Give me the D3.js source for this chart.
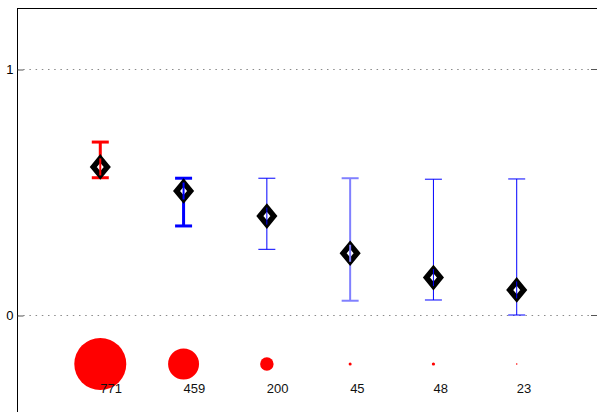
<!DOCTYPE html>
<html>
<head>
<meta charset="utf-8">
<script src="https://cdn.jsdelivr.net/npm/d3@7"></script>
<style>
  html, body { margin: 0; padding: 0; background: #fff; }
  svg { display: block; font-family: "Liberation Sans", Arial, Helvetica, sans-serif; }
</style>
</head>
<body>
<svg id="chart" width="597" height="412"></svg>
<script>
// Groups and their summary statistics
const groups   = [1, 2, 3, 4, 5, 6];
const means    = [0.602, 0.504, 0.402, 0.251, 0.152, 0.102];
const upper    = [0.703, 0.556, 0.556, 0.556, 0.552, 0.553];
const lower    = [0.558, 0.362, 0.267, 0.058, 0.061, 0.000];
const counts   = [771, 459, 200, 45, 48, 23];
const barColor = ["#ff0000", "#0000ff", "#0000ff", "#8080ff", "#0000ff", "#0000ff"];
const barWidth = [3, 3, 1, 2, 1, 1];
const yTicks   = [0, 1];

const W = 597, H = 412;
const svg = d3.select("#chart");

const x = d3.scaleLinear().domain([0, 7]).range([17, 600]);
const y = d3.scaleLinear().domain([0, 1]).range([315, 69]);
const r = d3.scaleLinear().domain([0, 771]).range([0, 26]);

const data = groups.map((g, i) => ({
  g, mean: means[i], hi: upper[i], lo: lower[i], n: counts[i],
  color: barColor[i], width: barWidth[i]
}));

// Dotted reference lines
svg.append("g").selectAll("line").data(yTicks).join("line")
  .attr("x1", x(0)).attr("x2", x(7))
  .attr("y1", d => Math.round(y(d)) + 0.5).attr("y2", d => Math.round(y(d)) + 0.5)
  .attr("stroke", "#8a8a8a").attr("stroke-width", 1)
  .attr("stroke-dasharray", "1.5,4.7");

// Axis frame: left and top edges
const frameTop = Math.round(y(1.25)) + 0.5;
svg.append("line").attr("x1", 17.5).attr("x2", 17.5).attr("y1", frameTop).attr("y2", H)
  .attr("stroke", "#000").attr("stroke-width", 1);
svg.append("line").attr("x1", 17).attr("x2", W).attr("y1", frameTop).attr("y2", frameTop)
  .attr("stroke", "#000").attr("stroke-width", 1);

// Y axis ticks and labels
const yAxis = d3.axisLeft(y).tickValues(yTicks).tickSize(-6).tickPadding(4).tickFormat(d3.format("d"));
const gy = svg.append("g").attr("transform", "translate(17.5,0.5)").call(yAxis);
gy.select(".domain").remove();
gy.selectAll(".tick line").attr("stroke", "#555");
gy.selectAll(".tick text").attr("font-size", 13).attr("fill", "#000")
  .attr("font-family", "Liberation Sans, Arial, sans-serif");

// Right-side ticks
svg.append("g").selectAll("line").data(yTicks).join("line")
  .attr("x1", W - 6).attr("x2", W)
  .attr("y1", d => Math.round(y(d)) + 0.5).attr("y2", d => Math.round(y(d)) + 0.5)
  .attr("stroke", "#555");

// Error bars
const capHalf = 8.5;
const eb = svg.append("g").selectAll("g").data(data).join("g")
  .attr("stroke", d => d.color).attr("stroke-width", d => d.width);
eb.append("line")
  .attr("x1", d => x(d.g)).attr("x2", d => x(d.g))
  .attr("y1", d => y(d.hi)).attr("y2", d => y(d.lo));
eb.append("line")
  .attr("x1", d => x(d.g) - capHalf).attr("x2", d => x(d.g) + capHalf)
  .attr("y1", d => y(d.hi)).attr("y2", d => y(d.hi));
eb.append("line")
  .attr("x1", d => x(d.g) - capHalf).attr("x2", d => x(d.g) + capHalf)
  .attr("y1", d => y(d.lo)).attr("y2", d => y(d.lo));

// Mean markers: hollow diamonds with a heavy outline
const dw = 7, dh = 8.5;
svg.append("g").selectAll("path").data(data).join("path")
  .attr("d", d => {
    const cx = x(d.g), cy = y(d.mean);
    return `M${cx},${cy - dh}L${cx + dw},${cy}L${cx},${cy + dh}L${cx - dw},${cy}Z`;
  })
  .attr("fill", "#fff").attr("stroke", "#000").attr("stroke-width", 5.5)
  .attr("stroke-linejoin", "miter");

// Redraw the error bar stroke over the diamond centre
svg.append("g").selectAll("line").data(data).join("line")
  .attr("x1", d => x(d.g)).attr("x2", d => x(d.g))
  .attr("y1", d => y(d.mean) - dh).attr("y2", d => y(d.mean) + dh)
  .attr("stroke", d => d.color).attr("stroke-width", d => Math.min(d.width, 2));

// Sample-size bubbles
const bubbleY = 364;
svg.append("g").selectAll("circle").data(data).join("circle")
  .attr("cx", d => x(d.g)).attr("cy", bubbleY)
  .attr("r", d => r(d.n)).attr("fill", "#ff0000");

svg.append("g").selectAll("text").data(data).join("text")
  .attr("x", d => x(d.g)).attr("y", 393)
  .attr("font-size", 13).attr("fill", "#111")
  .text(d => d.n);
</script>
</body>
</html>
